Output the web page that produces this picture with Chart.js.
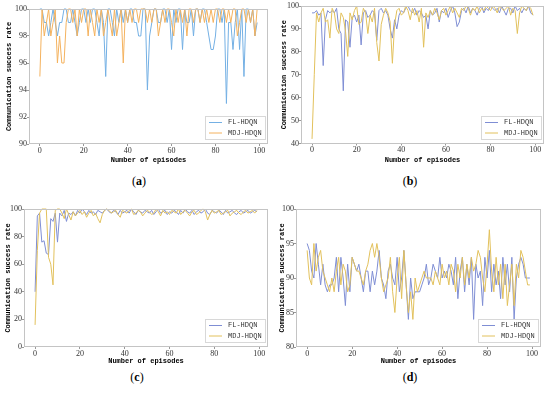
<!DOCTYPE html>
<html>
<head>
<meta charset="utf-8">
<script src="https://cdn.jsdelivr.net/npm/chart.js@4.4.1/dist/chart.umd.min.js"></script>
<style>
  html, body { margin: 0; padding: 0; background: #fff; }
  body { position: relative; width: 550px; height: 394px; overflow: hidden; }
  canvas { position: absolute; }
  .cap { position: absolute; font-family: "Liberation Serif", serif; font-size: 12px; color: #000; transform: translate(-50%, -50%); }
  .cap b { font-weight: bold; }
</style>
</head>
<body>
<div class="cap" style="left:139px; top:181px">(<b>a</b>)</div>
<div class="cap" style="left:410px; top:181px">(<b>b</b>)</div>
<div class="cap" style="left:137px; top:377px">(<b>c</b>)</div>
<div class="cap" style="left:410px; top:377px">(<b>d</b>)</div>
<script>
// episode index 0..99 and shared x ticks
const xTicks = [0, 20, 40, 60, 80, 100];
const seriesNames = ['FL-HDQN', 'MDJ-HDQN'];

// (a)
const yTicksA = [90, 92, 94, 96, 98, 100];
const flA = [
  100,100,99,99,98,99,100,99,98,99,
  99,100,100,99,99,100,99,98,99,100,
  100,99,100,99,100,100,99,98,100,99,
  95,100,100,99,98,100,99,100,99,100,
  99,100,100,99,99,98,98,100,100,94,
  98,99,100,100,99,99,100,100,99,100,
  97,100,99,100,100,97,100,99,99,100,
  98,100,100,99,100,100,99,98,97,97,
  98,100,100,99,100,93,99,99,97,99,
  100,97,100,95,100,100,99,100,98,99];
const mdjA = [
  95,100,98,99,100,98,99,100,96,98,
  96,96,99,100,100,99,100,98,100,99,
  100,100,98,100,99,98,100,99,100,98,
  99,100,99,98,100,98,99,100,96,100,
  99,100,99,100,100,99,100,100,100,99,
  100,99,100,100,98,99,100,99,100,100,
  99,98,100,99,100,99,100,98,100,100,
  99,100,100,99,100,99,100,99,100,99,
  100,100,99,100,100,99,100,99,100,100,
  98,99,100,100,99,100,99,100,98,100];

// (b)
const yTicksB = [40, 50, 60, 70, 80, 90, 100];
const flB = [
  97,97,98,96,97,74,94,98,97,98,
  97,99,90,88,63,94,93,82,95,96,
  93,96,83,97,98,95,96,98,97,85,
  98,99,97,98,96,90,86,94,90,96,
  98,97,99,100,98,97,99,96,98,97,
  95,96,90,98,96,97,99,93,98,97,
  99,95,98,100,97,91,93,98,99,97,
  100,97,99,98,96,99,100,97,99,98,
  100,99,98,99,97,100,98,96,99,99,
  97,100,98,99,97,99,98,100,97,96];
const mdjB = [
  42,70,97,93,97,99,93,94,86,99,
  97,90,88,97,95,89,78,97,94,98,
  100,92,93,99,97,88,96,93,99,84,
  76,92,96,99,97,93,75,92,98,99,
  96,97,100,98,94,99,96,98,93,99,
  82,97,95,98,96,99,97,94,98,99,
  96,98,100,97,99,97,95,99,98,100,
  99,96,99,98,100,97,99,98,100,99,
  98,100,99,97,100,99,98,99,100,96,
  99,98,88,97,100,99,98,100,99,96];

// (c)
const yTicksC = [0, 20, 40, 60, 80, 100];
const flC = [
  40,95,97,76,77,68,67,93,91,97,
  76,97,95,99,91,97,96,98,95,99,
  97,100,98,96,99,97,98,96,99,98,
  97,99,100,98,97,99,98,96,99,97,
  98,99,97,100,98,96,99,98,97,99,
  98,97,99,96,98,100,97,98,99,96,
  98,97,99,98,96,99,97,100,98,97,
  99,96,98,99,97,98,100,97,96,99,
  98,97,99,98,96,99,97,98,99,97,
  96,98,99,97,98,99,97,98,99,98];
const mdjC = [
  16,70,97,100,100,100,65,60,45,99,
  100,100,97,93,100,96,92,98,95,97,
  99,96,98,94,97,99,95,97,93,90,
  96,99,100,99,97,98,99,96,94,99,
  98,97,99,100,96,97,99,98,95,97,
  99,98,96,97,100,98,95,99,97,98,
  96,99,98,97,100,96,98,99,97,95,
  98,99,96,97,99,100,98,92,96,99,
  97,98,99,96,97,98,99,95,97,98,
  99,97,96,98,99,97,98,99,97,99];

// (d)
const yTicksD = [80, 85, 90, 95, 100];
const flD = [
  95,94,91,90,95,92,89,92,89,88,
  89,89,90,93,88,93,90,86,92,88,
  93,92,91,92,90,88,91,91,88,91,
  89,91,94,90,89,87,91,92,90,89,
  93,88,90,94,89,84,90,87,88,88,
  88,89,90,92,89,90,92,91,90,93,
  90,91,90,92,91,89,93,87,91,93,
  88,92,89,93,84,92,90,91,86,93,
  90,94,88,92,89,91,87,93,89,92,
  88,93,84,90,92,93,92,90,90,90];
const mdjD = [
  94,90,89,95,91,93,94,91,90,89,
  88,90,88,91,93,89,92,91,88,89,
  93,92,91,91,90,89,91,92,94,95,
  93,95,93,90,88,89,90,93,88,85,
  90,93,87,94,89,85,88,84,90,88,
  89,90,91,90,90,90,89,91,90,89,
  92,90,91,89,92,91,88,92,90,93,
  89,92,90,93,91,92,94,93,90,88,
  92,97,91,88,93,89,92,87,92,86,
  89,92,86,92,90,94,93,91,89,89];

const toXY = arr => arr.map((v, i) => ({ x: i, y: v }));

// box around the plot area plus the legend in the lower right corner
const frameLegend = {
  id: 'frameLegend',
  afterDatasetsDraw(chart) {
    const { ctx, chartArea: a } = chart;
    ctx.save();
    ctx.strokeStyle = '#c4c4c4';
    ctx.lineWidth = 1;
    ctx.strokeRect(Math.round(a.left) + 0.5, Math.round(a.top) + 0.5,
                   Math.round(a.width) - 1, Math.round(a.height) - 1);

    const w = 61, h = 24;
    const x = Math.round(a.right) - w - 2, y = Math.round(a.bottom) - h - 4;
    ctx.fillStyle = 'rgba(255,255,255,0.85)';
    ctx.fillRect(x, y, w, h);
    ctx.strokeStyle = '#d8d8d8';
    ctx.strokeRect(x + 0.5, y + 0.5, w - 1, h - 1);
    ctx.font = '7px "Liberation Mono"';
    ctx.textBaseline = 'middle';
    chart.data.datasets.forEach((ds, i) => {
      const ly = y + 6.5 + i * 10.5;
      ctx.strokeStyle = ds.borderColor;
      ctx.beginPath();
      ctx.moveTo(x + 4, ly);
      ctx.lineTo(x + 17, ly);
      ctx.stroke();
      ctx.fillStyle = '#333';
      ctx.fillText(ds.label, x + 23, ly);
    });
    ctx.restore();
  }
};

function makePanel(p) {
  const canvas = document.createElement('canvas');
  const h = Math.ceil(p.xTitleY + 5 - p.y);
  canvas.width = p.w;
  canvas.height = h;
  canvas.style.left = p.x + 'px';
  canvas.style.top = p.y + 'px';
  document.body.appendChild(canvas);

  const xAxisH = p.xTitleY + 4.2 - p.area.b;
  const tickFont = { family: 'Liberation Serif', size: 8 };
  const titleFont = { family: 'Liberation Mono', size: 7, weight: 'bold' };

  new Chart(canvas, {
    type: 'line',
    data: {
      datasets: [
        { label: seriesNames[0], data: toXY(p.fl), borderColor: p.colors[0], order: 1 },
        { label: seriesNames[1], data: toXY(p.mdj), borderColor: p.colors[1], order: 0 }
      ]
    },
    options: {
      responsive: false,
      animation: false,
      layout: {
        padding: {
          left: 0,
          top: p.area.t - p.y,
          right: p.x + p.w - p.area.r,
          bottom: h - (p.area.b - p.y) - xAxisH
        }
      },
      datasets: { line: { borderWidth: 1, pointRadius: 0, tension: 0, clip: 2 } },
      plugins: { legend: { display: false }, tooltip: { enabled: false } },
      scales: {
        x: {
          type: 'linear',
          min: -4.95,
          max: 103.95,
          afterBuildTicks: s => { s.ticks = xTicks.map(v => ({ value: v })); },
          afterFit: s => { s.height = xAxisH; },
          border: { display: false },
          grid: { display: true, drawOnChartArea: false, tickLength: 2, color: '#999' },
          ticks: { font: tickFont, color: '#333', padding: 0, maxRotation: 0 },
          title: { display: true, text: 'Number of episodes', font: titleFont, color: '#000', padding: 0 }
        },
        y: {
          min: p.yTicks[0],
          max: p.yTicks[p.yTicks.length - 1],
          afterBuildTicks: s => { s.ticks = p.yTicks.map(v => ({ value: v })); },
          afterFit: s => { s.width = p.area.l - p.x; },
          border: { display: false },
          grid: { display: true, drawOnChartArea: false, tickLength: 2, color: '#999' },
          ticks: { font: tickFont, color: '#333', padding: 0 },
          title: { display: true, text: 'Communication success rate', font: titleFont, color: '#000',
                   padding: { top: p.yTitleX - p.x - 4.2, bottom: 0 } }
        }
      }
    },
    plugins: [frameLegend]
  });
}

const lightPair = ['#74b0e4', '#f4b25e'];
const darkPair = ['#7f8ed4', '#e2c15c'];

makePanel({ x: 0, y: 0, w: 272, area: { l: 29, t: 9, r: 268, b: 144 }, xTitleY: 160, yTitleX: 9,
            yTicks: yTicksA, fl: flA, mdj: mdjA, colors: lightPair });
makePanel({ x: 275, y: 0, w: 275, area: { l: 301, t: 6, r: 544, b: 143.5 }, xTitleY: 160, yTitleX: 284,
            yTicks: yTicksB, fl: flB, mdj: mdjB, colors: darkPair });
makePanel({ x: 0, y: 195, w: 272, area: { l: 24, t: 209, r: 268, b: 347 }, xTitleY: 361, yTitleX: 8,
            yTicks: yTicksC, fl: flC, mdj: mdjC, colors: darkPair });
makePanel({ x: 274, y: 195, w: 276, area: { l: 296, t: 209, r: 541, b: 347 }, xTitleY: 361, yTitleX: 282,
            yTicks: yTicksD, fl: flD, mdj: mdjD, colors: darkPair });
</script>
</body>
</html>
